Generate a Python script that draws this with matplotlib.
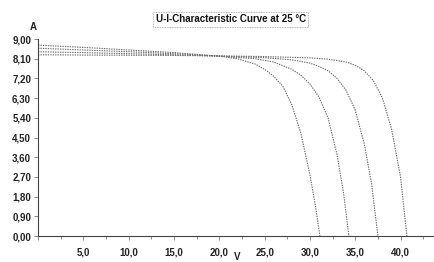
import matplotlib
matplotlib.use("Agg")
import matplotlib.pyplot as plt
from matplotlib.ticker import MultipleLocator, FuncFormatter

# Data
v1 = [0, 5, 10, 15, 20, 22, 24, 25, 26, 27, 28, 29, 30, 30.6, 31.1]
i1 = [8.72, 8.62, 8.50, 8.38, 8.22, 8.10, 7.85, 7.62, 7.30, 6.85, 6.0, 4.7, 2.8, 1.4, 0]

v2 = [0, 5, 10, 15, 20, 24, 26, 28, 29, 30, 31, 32, 33, 33.7, 34.3]
i2 = [8.58, 8.50, 8.42, 8.33, 8.22, 8.10, 7.95, 7.62, 7.35, 6.95, 6.35, 5.4, 3.7, 2.0, 0]

v3 = [0, 5, 10, 15, 20, 25, 28, 30, 31, 32, 33, 34, 35, 36, 36.8, 37.5]
i3 = [8.42, 8.38, 8.33, 8.28, 8.22, 8.15, 8.05, 7.90, 7.75, 7.55, 7.20, 6.65, 5.75, 4.2, 2.4, 0]

v4 = [0, 5, 10, 15, 20, 25, 30, 32, 34, 35, 36, 37, 38, 39, 40, 40.7]
i4 = [8.28, 8.27, 8.26, 8.25, 8.23, 8.20, 8.14, 8.08, 7.95, 7.80, 7.55, 7.10, 6.30, 4.9, 2.7, 0]

title = "U-I-Characteristic Curve at 25 °C"
x_label = "V"
y_label = "A"

plt.rcParams['font.family'] = ['Liberation Sans', 'DejaVu Sans']

fig = plt.figure(figsize=(4.35, 2.62), dpi=100)
ax = fig.add_axes([0.0874, 0.099, 0.9126, 0.752])

for v, i in [(v1, i1), (v2, i2), (v3, i3), (v4, i4)]:
    ax.plot(v, i, color='#666666', lw=0.8, linestyle=(0, (1.2, 1.0)))

ax.set_xlim(0, 43.8)
ax.set_ylim(0, 9.0)
ax.xaxis.set_major_locator(MultipleLocator(5))
ax.xaxis.set_minor_locator(MultipleLocator(2.5))
ax.yaxis.set_major_locator(MultipleLocator(0.9))

ax.xaxis.set_major_formatter(FuncFormatter(lambda x, p: "" if x == 0 else f"{x:.1f}".replace('.', ',')))
ax.yaxis.set_major_formatter(FuncFormatter(lambda y, p: f"{y:.2f}".replace('.', ',')))

for s in ['top', 'right']:
    ax.spines[s].set_visible(False)
for s in ['left', 'bottom']:
    ax.spines[s].set_color('#444444')
    ax.spines[s].set_linestyle((0, (1.2, 1.0)))
    ax.spines[s].set_linewidth(0.8)

ax.tick_params(axis='both', which='both', direction='out', color='#777777', width=0.6)
ax.tick_params(axis='both', which='major', length=3, labelsize=7, labelcolor='#222222', pad=2)
ax.tick_params(axis='x', which='major', pad=5)
ax.tick_params(axis='x', which='minor', length=2)
for lab in ax.get_xticklabels() + ax.get_yticklabels():
    lab.set_fontweight('bold')

fig.text(0.076, 0.897, y_label, fontsize=7, fontweight='bold', ha='center', va='center', color='#222222')
fig.text(0.545, 0.02, x_label, fontsize=7, fontweight='bold', ha='center', va='center', color='#222222')

fig.text(0.531, 0.927, title, fontsize=7, fontweight='bold', ha='center', va='center', color='#111111',
         bbox=dict(boxstyle='square,pad=0.25', facecolor='white', edgecolor='#999999',
                   linestyle=(0, (1, 1)), linewidth=0.6))

fig.savefig("out.png", dpi=100)
